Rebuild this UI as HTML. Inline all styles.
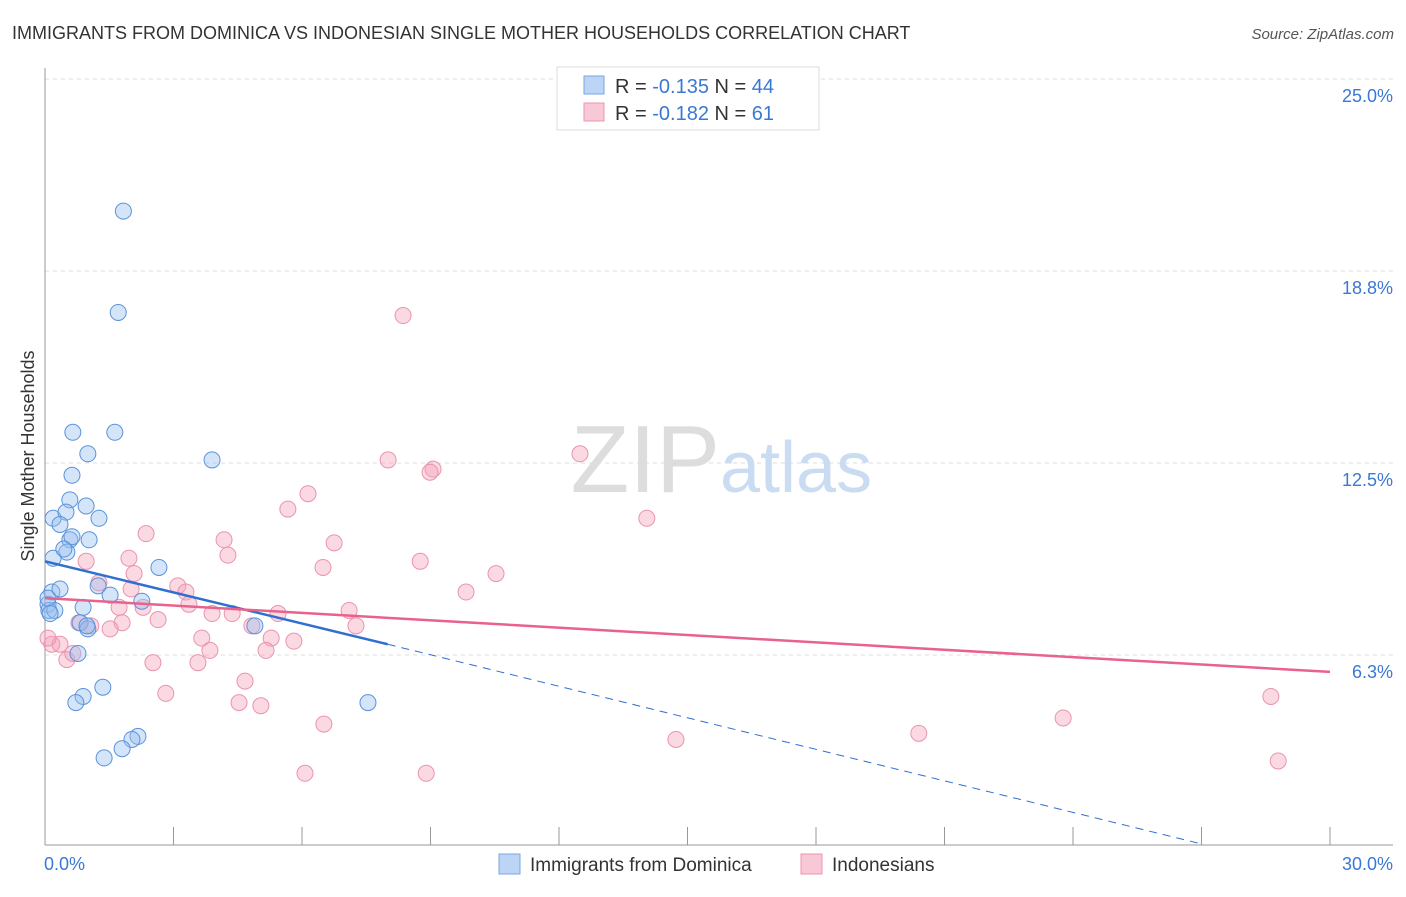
<!DOCTYPE html>
<html><head><meta charset="utf-8"><style>
body{margin:0;background:#fff;font-family:"Liberation Sans",sans-serif;}
svg text{font-family:"Liberation Sans",sans-serif;}
</style></head><body>
<svg id="c" width="1406" height="892">
<text x="12" y="39" font-size="18" fill="#333">IMMIGRANTS FROM DOMINICA VS INDONESIAN SINGLE MOTHER HOUSEHOLDS CORRELATION CHART</text>
<text x="1394" y="39" font-size="15" fill="#555" font-style="italic" text-anchor="end">Source: ZipAtlas.com</text>
<g id="grid"></g>
<text x="720" y="492" font-size="96" fill="#ddd" text-anchor="end" font-family="Liberation Serif">ZIP</text>
<text x="720" y="492" font-size="72" fill="#c9dcf2">atlas</text>
<text transform="translate(34,456) rotate(-90)" font-size="18" fill="#333" text-anchor="middle">Single Mother Households</text>
<g id="pts"></g>
<g id="trend"></g>
<g>
<rect x="557" y="67" width="262" height="63" fill="#fff" stroke="#ddd"/>
<rect x="584" y="76" width="20" height="18" fill="#bcd4f5" stroke="#7aa6e0"/>
<rect x="584" y="103" width="20" height="18" fill="#f9c8d6" stroke="#eb93ae"/>
<text x="615" y="93" font-size="20" fill="#333">R = <tspan fill="#3a78d4">-0.135</tspan>   N = <tspan fill="#3a78d4">44</tspan></text>
<text x="615" y="120" font-size="20" fill="#333">R = <tspan fill="#3a78d4">-0.182</tspan>   N =  <tspan fill="#3a78d4">61</tspan></text>
</g>
<g>
<rect x="499" y="854" width="21" height="20" fill="#bcd4f5" stroke="#7aa6e0"/>
<text x="530" y="871" font-size="19" fill="#333">Immigrants from Dominica</text>
<rect x="801" y="854" width="21" height="20" fill="#f9c8d6" stroke="#eb93ae"/>
<text x="832" y="871" font-size="19" fill="#333">Indonesians</text>
</g>
</svg>
<script>
const yTicks=[25,18.75,12.5,6.25];
const yTickLabels=["25.0%","18.8%","12.5%","6.3%"];
const xTickLabels=["0.0%","30.0%"];
const blueX=[1.83,1.71,0.65,1.63,1.0,3.9,0.63,0.58,0.96,0.19,1.26,0.49,0.35,0.58,1.03,0.51,0.19,2.66,1.24,1.52,0.16,2.26,0.07,0.09,0.23,0.89,0.82,1.0,0.77,4.9,1.35,0.89,0.72,7.54,2.17,2.03,1.8,1.38,0.07,0.35,0.12,0.98,0.63,0.44];
const blueY=[20.7,17.4,13.5,13.5,12.8,12.6,12.1,11.3,11.1,10.7,10.7,10.9,10.5,10.0,10.0,9.6,9.4,9.1,8.5,8.2,8.3,8.0,7.9,7.7,7.7,7.8,7.3,7.1,6.3,7.2,5.2,4.9,4.7,4.7,3.6,3.5,3.2,2.9,8.1,8.4,7.6,7.2,10.1,9.7];
const pinkX=[8.36,12.49,8.01,9.06,8.99,14.05,6.14,5.67,2.36,4.18,6.75,4.27,1.96,0.96,8.76,6.49,10.53,2.08,3.1,1.26,3.29,9.83,2.01,3.36,1.73,2.29,7.1,4.37,3.9,5.44,2.64,0.79,1.8,7.26,1.52,1.07,4.83,3.66,5.28,5.81,5.16,3.85,0.16,0.35,0.51,2.52,3.57,4.67,2.82,4.53,5.04,6.51,28.62,23.77,20.4,14.73,6.07,8.9,28.79,0.07,0.65];
const pinkY=[17.3,12.8,12.6,12.3,12.2,10.7,11.5,11.0,10.2,10.0,9.9,9.5,9.4,9.3,9.3,9.1,8.9,8.9,8.5,8.6,8.3,8.3,8.4,7.9,7.8,7.8,7.7,7.6,7.6,7.6,7.4,7.3,7.3,7.2,7.1,7.2,7.2,6.8,6.8,6.7,6.4,6.4,6.6,6.6,6.1,6.0,6.0,5.4,5.0,4.7,4.6,4.0,4.9,4.2,3.7,3.5,2.4,2.4,2.8,6.8,6.3];
const blueTrend=[[0,9.3],[8.0,6.6],[27.0,0.1]];
const pinkTrend=[[0,8.1],[30,5.7]];
const L=45,R=1330,B=847;
const sx=v=>L+v/30*(R-L), sy=v=>B-v/6.25*192;
const NS="http://www.w3.org/2000/svg";
function mk(t,a,p){const e=document.createElementNS(NS,t);for(const k in a)e.setAttribute(k,a[k]);p.appendChild(e);return e;}
const g=document.getElementById('grid');
yTicks.forEach((v,i)=>{
 const l=mk('line',{x1:L,x2:1393,y1:sy(v),y2:sy(v),stroke:'#ddd','stroke-dasharray':'4,4'},g);
 
 
 const t=mk('text',{x:1393,y:sy(v)+23,'font-size':18,fill:'#3a78d4','text-anchor':'end'},g);
 t.textContent=yTickLabels[i];
 
 
});
mk('line',{x1:L,x2:L,y1:68,y2:845,stroke:'#999'},g);
mk('line',{x1:L,x2:1393,y1:845,y2:845,stroke:'#999'},g);
for(let i=0;i<=10;i++){const tk=mk('line',{x1:sx(i*3),x2:sx(i*3),y1:827,y2:845,stroke:'#999'},g);
 
 }
[[0,44,'start'],[30,1393,'end']].forEach((d,i)=>{const t=mk('text',{x:i?1393:44,y:870,'font-size':18,fill:'#3a78d4','text-anchor':d[2]},g);t.textContent=xTickLabels[i];
 
 });
const p=document.getElementById('pts');
pinkX.forEach((x,i)=>{const c=mk('circle',{cx:sx(x),cy:sy(pinkY[i]),r:8,fill:'rgba(245,160,185,0.4)',stroke:'#eb93ae','stroke-width':1},p);
 
 });
blueX.forEach((x,i)=>{const c=mk('circle',{cx:sx(x),cy:sy(blueY[i]),r:8,fill:'rgba(150,190,240,0.4)',stroke:'#5b92da','stroke-width':1},p);
 
 });
const tr=document.getElementById('trend');
const b1=mk('line',{x1:sx(blueTrend[0][0]),y1:sy(blueTrend[0][1]),x2:sx(blueTrend[1][0]),y2:sy(blueTrend[1][1]),stroke:'#2f6fd0','stroke-width':2.5},tr);


const b2=mk('line',{x1:sx(blueTrend[1][0]),y1:sy(blueTrend[1][1]),x2:sx(blueTrend[2][0]),y2:sy(blueTrend[2][1]),stroke:'#2f6fd0','stroke-width':1,'stroke-dasharray':'8,6'},tr);


const p1=mk('line',{x1:sx(pinkTrend[0][0]),y1:sy(pinkTrend[0][1]),x2:sx(pinkTrend[1][0]),y2:sy(pinkTrend[1][1]),stroke:'#e8628c','stroke-width':2.5},tr);


</script>
</body></html>
